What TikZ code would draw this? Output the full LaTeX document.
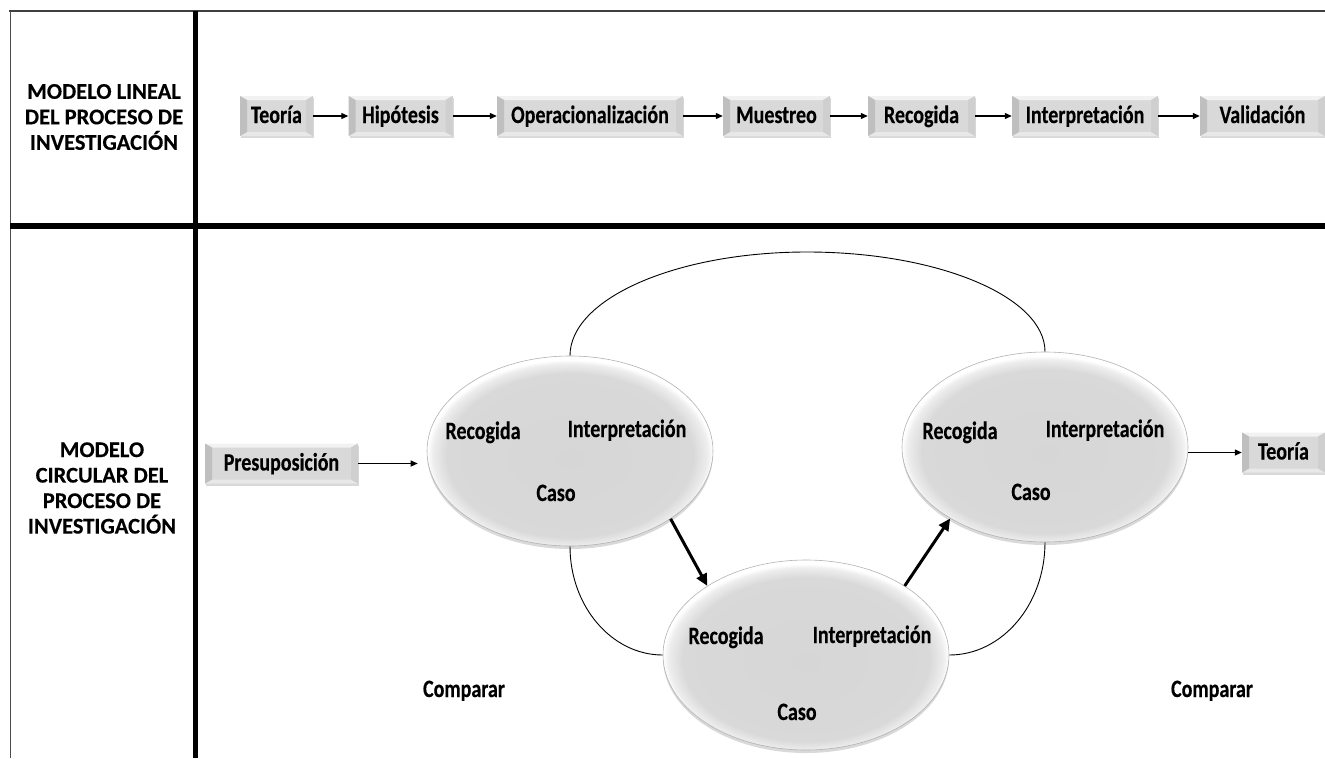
\documentclass[tikz,border=0pt]{standalone}
\usepackage{fontspec}
\setmainfont{Carlito}
\newfontfamily\nf{Carlito}[FakeStretch=0.8, BoldFeatures={FakeBold=0.3}]
\newfontfamily\lf{Carlito}[BoldFeatures={FakeBold=0.3}]
\usetikzlibrary{arrows.meta,shapes.geometric,shadows,calc}
\pgfdeclareradialshading{ellsh}{\pgfpoint{0bp}{-2bp}}{color(0bp)=(black!16); color(21.5bp)=(black!15); color(24bp)=(black!7); color(25bp)=(white); color(50bp)=(white)}
\begin{document}
\begin{tikzpicture}[x=1pt,y=-1pt,
 lbl/.style={font=\lf\bfseries\fontsize{22.5}{25.5}\selectfont, align=center, inner sep=0pt},
 txt/.style={font=\nf\bfseries\fontsize{25}{28}\selectfont, inner sep=0pt, text height=17pt, text depth=3pt},
 bev/.style={txt, minimum height=40pt, fill=black!15,
   drop shadow={shadow xshift=1pt, shadow yshift=-2pt, opacity=0.3},
   path picture={
     \fill[black!5] (path picture bounding box.north west) -- (path picture bounding box.north east)
        -- ([shift={(-7pt,-4pt)}]path picture bounding box.north east) -- ([shift={(7pt,-4pt)}]path picture bounding box.north west) -- cycle;
     \fill[black!9] (path picture bounding box.south west) -- (path picture bounding box.south east)
        -- ([shift={(-7pt,4pt)}]path picture bounding box.south east) -- ([shift={(7pt,4pt)}]path picture bounding box.south west) -- cycle;
     \fill[black!25] (path picture bounding box.north west) -- ([shift={(7pt,-4pt)}]path picture bounding box.north west)
        -- ([shift={(7pt,4pt)}]path picture bounding box.south west) -- (path picture bounding box.south west) -- cycle;
     \fill[black!19] (path picture bounding box.north east) -- ([shift={(-7pt,-4pt)}]path picture bounding box.north east)
        -- ([shift={(-7pt,4pt)}]path picture bounding box.south east) -- (path picture bounding box.south east) -- cycle;
   }},
 ell/.style={ellipse, minimum width=286pt, minimum height=190pt, draw=black!30, line width=0.6pt,
   shade, shading=ellsh, drop shadow={shadow xshift=0pt, shadow yshift=-3pt, opacity=0.3}},
 tarr/.style={line width=1.2pt, -{Triangle[length=7pt,width=6pt]}},
 karr/.style={line width=3pt, -{Triangle[length=12pt,width=11pt]}},
 con/.style={line width=0.9pt}
]
\useasboundingbox (0,0) rectangle (1325,758);
% frame
\draw[black!75, line width=2pt] (9,11) -- (1325,11);
\draw[black!70, line width=1pt] (10,11) -- (10,758);
\draw[line width=5pt] (195,11) -- (195,758);
\draw[line width=5.5pt] (10,226) -- (1325,226);

% left labels
\node[lbl] (L1) at (104,117) {MODELO LINEAL\\DEL PROCESO DE\\INVESTIGACIÓN};
\node[lbl] (L2) at (102,488) {MODELO\\CIRCULAR DEL\\PROCESO DE\\INVESTIGACIÓN};

% top row
\node[bev, minimum width=73pt]  (a1) at (276.5,116) {Teoría};
\node[bev, minimum width=104pt] (a2) at (400.5,116) {Hipótesis};
\node[bev, minimum width=186pt] (a3) at (590,116) {Operacionalización};
\node[bev, minimum width=107pt] (a4) at (776.5,116) {Muestreo};
\node[bev, minimum width=107pt] (a5) at (921.5,116) {Recogida};
\node[bev, minimum width=146pt] (a6) at (1085,116) {Interpretación};
\node[bev, minimum width=125pt] (a7) at (1262.5,116) {Validación};
\draw[tarr] (a1) -- (a2);
\draw[tarr] (a2) -- (a3);
\draw[tarr] (a3) -- (a4);
\draw[tarr] (a4) -- (a5);
\draw[tarr] (a5) -- (a6);
\draw[tarr] (a6) -- (a7);

% bottom
\node[bev, minimum width=153pt] (pre) at (281.5,463.5) {Presuposición};
\node[bev, minimum width=83pt] (teo) at (1283.5,452.5) {Teoría};

\node[ell] (e1) at (570,451) {};
\node[ell] (e2) at (806,655) {};
\node[ell] (e3) at (1045,447) {};

\node[txt] (e1r) at (483,432) {Recogida};
\node[txt] (e1i) at (627,430) {Interpretación};
\node[txt] (e1c) at (556,494) {Caso};
\node[txt] (e2r) at (726,637) {Recogida};
\node[txt] (e2i) at (872,636) {Interpretación};
\node[txt] (e2c) at (797,713) {Caso};
\node[txt] (e3r) at (960,432) {Recogida};
\node[txt] (e3i) at (1105,430) {Interpretación};
\node[txt] (e3c) at (1031,493) {Caso};

\node[txt] (c1) at (464,690) {Comparar};
\node[txt] (c2) at (1212,690) {Comparar};

\coordinate (top) at (807,252);
\draw[con] (e1.north) .. controls +(0,-57) and +(-131,0) .. (top) .. controls +(131,0) and +(0,-55) .. (e3.north);
\draw[con] (e1.south) .. controls +(0,60) and +(-51,0) .. (e2.west);
\draw[con] (e2.east) .. controls +(53,0) and +(0,62) .. (e3.south);

\draw[tarr, shorten >=9pt] (pre) -- (pre -| e1.west);
\draw[tarr] (e3.east |- teo) -- (teo.west);
\draw[karr] (e1.-34) -- (e2.145);
\draw[karr] (e2.35) -- (e3.-143);
\end{tikzpicture}
\end{document}
